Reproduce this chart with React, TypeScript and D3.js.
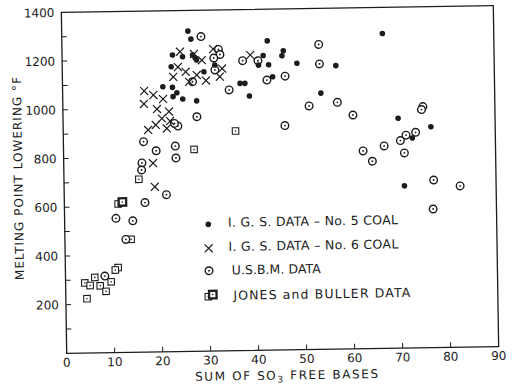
import * as d3 from 'd3'

type Pt = [number, number]

// I.G.S. data - No. 5 coal (filled dots)
const igs5: Pt[] = [
  [26.3, 1315], [26.9, 1282], [23.0, 1218], [25.1, 1210], [27.2, 1217],
  [28.0, 1196], [27.7, 1205], [22.7, 1170], [29.5, 1147], [31.8, 1174],
  [20.9, 1088], [22.9, 1085], [23.8, 1063], [23.0, 1047], [25.0, 1037],
  [27.9, 1028], [37.0, 1097], [38.0, 1097], [38.9, 1045], [42.8, 1270],
  [46.1, 1228], [45.8, 1208], [41.9, 1210], [40.9, 1171], [43.0, 1172],
  [48.9, 1176], [57.0, 1164], [43.8, 1122], [53.8, 1052], [66.8, 1293],
  [69.8, 944], [76.6, 907], [72.7, 862], [70.9, 666],
]

// I.G.S. data - No. 6 coal (crosses)
const igs6: Pt[] = [
  [24.6, 1231], [27.5, 1221], [29.1, 1195], [24.1, 1168], [25.7, 1148],
  [28.0, 1134], [29.9, 1111], [26.4, 1107], [23.1, 1128], [31.5, 1240],
  [33.3, 1159], [32.8, 1126], [39.2, 1213], [17.0, 1072], [18.9, 1055],
  [16.9, 1019], [20.9, 1038], [19.6, 997], [22.1, 986], [20.6, 958],
  [19.3, 932], [17.7, 912], [21.6, 917], [18.6, 775], [18.9, 678],
  [22.3, 947],
]

// U.S.B.M. data (dotted circles)
const usbm: Pt[] = [
  [29.0, 1292], [32.6, 1238], [32.9, 1217], [31.6, 1203], [31.8, 1154],
  [27.1, 1107], [34.7, 1071], [37.6, 1190], [40.8, 1189], [42.6, 1109],
  [46.4, 1124], [53.5, 1252], [53.6, 1172], [51.3, 1000], [57.2, 1013],
  [60.4, 960], [46.2, 921], [75.0, 990], [74.7, 978], [73.4, 885],
  [71.4, 874], [70.2, 852], [66.8, 831], [62.4, 812], [64.3, 769],
  [71.0, 801], [77.0, 688], [82.5, 662], [76.8, 569], [27.9, 963],
  [23.9, 926], [23.2, 937], [16.7, 864], [19.3, 826], [23.3, 844],
  [23.4, 795], [16.3, 777], [16.2, 748], [21.3, 645], [16.8, 614],
  [10.7, 551], [14.2, 540], [12.7, 464], [8.2, 315],
]

// Jones and Buller data (dotted squares)
const jonesBuller: Pt[] = [
  [15.6, 710], [27.2, 829], [35.9, 902], [11.2, 610], [13.8, 464],
  [11.0, 349], [10.4, 339], [6.1, 310], [4.0, 288], [5.1, 277],
  [7.2, 275], [9.5, 291], [8.4, 252], [4.4, 223],
]
const jonesBullerBold: Pt[] = [[12.1, 618]]

const xTicks = d3.range(0, 91, 10)
const yMinor = d3.range(100, 1400, 100)
const yLabels = d3.range(200, 1401, 200)

const legendRows = [
  { kind: 'dot', label: 'I. G. S. DATA \u2013 No. 5 COAL', sy: 223.2, ty: 226, tx: 227.3, len: 170 },
  { kind: 'cross', label: 'I. G. S. DATA \u2013 No. 6 COAL', sy: 247.2, ty: 250.2, tx: 227.3, len: 170 },
  { kind: 'circle', label: 'U.S.B.M. DATA', sy: 269.6, ty: 273.7, tx: 230.3, len: 89 },
  { kind: 'square', label: 'JONES and BULLER DATA', sy: 294, ty: 299, tx: 231.5, len: 177 },
]

const W = 517
const H = 387
const margin = { top: 9, right: 21, bottom: 37, left: 64 }
const ink = '#1c1c1c'
const font = 'DejaVu Sans, sans-serif'

const Dot = ({ x, y }: { x: number; y: number }) => (
  <circle cx={x} cy={y} r={2.8} fill={ink} />
)
const Cross = ({ x, y }: { x: number; y: number }) => (
  <g stroke={ink} strokeWidth={1.2}>
    <line x1={x - 4} y1={y - 4} x2={x + 4} y2={y + 4} />
    <line x1={x - 4} y1={y + 4} x2={x + 4} y2={y - 4} />
  </g>
)
const Ring = ({ x, y }: { x: number; y: number }) => (
  <g>
    <circle cx={x} cy={y} r={3.8} fill="#fff" stroke={ink} strokeWidth={1.4} />
    <circle cx={x} cy={y} r={0.9} fill={ink} />
  </g>
)
const Square = ({ x, y, bold }: { x: number; y: number; bold?: boolean }) => {
  const s = bold ? 7.5 : 6.5
  return (
    <g>
      <rect
        x={x - s / 2}
        y={y - s / 2}
        width={s}
        height={s}
        fill="#fff"
        stroke={ink}
        strokeWidth={bold ? 2.3 : 1.1}
      />
      <circle cx={x} cy={y} r={0.8} fill={ink} />
    </g>
  )
}

export default function App() {
  const x = d3.scaleLinear().domain([0, 90]).range([margin.left, W - margin.right])
  const y = d3.scaleLinear().domain([0, 1400]).range([H - margin.bottom, margin.top])
  const [x0, x1] = x.range()
  const [y0, y1] = y.range()

  return (
    <svg
      width={W}
      height={H}
      style={{ position: 'absolute', left: 0, top: 0, background: '#fff' }}
    >
      <rect width={W} height={H} fill="#fff" />
      <g transform="rotate(-0.9 280 179.5)" fontFamily={font} fill={ink}>
        {/* frame */}
        <rect
          x={x0}
          y={y1}
          width={x1 - x0}
          height={y0 - y1}
          fill="none"
          stroke={ink}
          strokeWidth={1.3}
        />

        {/* y ticks */}
        <g stroke={ink} strokeWidth={1}>
          {yMinor.map((t) => (
            <line key={t} x1={x0} x2={x0 + 5} y1={y(t)} y2={y(t)} />
          ))}
          {xTicks.slice(1, -1).map((t) => (
            <line key={t} x1={x(t)} x2={x(t)} y1={y0} y2={y0 - 5} />
          ))}
        </g>

        <g fontSize={12} textAnchor="end">
          {yLabels.map((t) => (
            <text key={t} x={x0 - 7} y={y(t) + 4.4}>
              {t}
            </text>
          ))}
        </g>
        <g fontSize={12} textAnchor="middle">
          {xTicks.map((t) => (
            <text key={t} x={x(t)} y={363.4}>
              {t}
            </text>
          ))}
        </g>

        {/* axis titles */}
        <text
          transform="translate(22.5,174.4) rotate(-90)"
          textAnchor="middle"
          fontSize={12}
          textLength={203}
          lengthAdjust="spacing"
        >
          MELTING POINT LOWERING °F
        </text>
        <text x={192} y={379.5} fontSize={12} textLength={183} lengthAdjust="spacing">
          SUM OF SO
          <tspan fontSize={9} dy={3}>3</tspan>
          <tspan dy={-3}> FREE BASES</tspan>
        </text>

        {/* data */}
        {jonesBuller.map((d, i) => (
          <Square key={'j' + i} x={x(d[0])} y={y(d[1])} />
        ))}
        {jonesBullerBold.map((d, i) => (
          <Square key={'jb' + i} x={x(d[0])} y={y(d[1])} bold />
        ))}
        {usbm.map((d, i) => (
          <Ring key={'u' + i} x={x(d[0])} y={y(d[1])} />
        ))}
        {igs6.map((d, i) => (
          <Cross key={'c' + i} x={x(d[0])} y={y(d[1])} />
        ))}
        {igs5.map((d, i) => (
          <Dot key={'d' + i} x={x(d[0])} y={y(d[1])} />
        ))}

        {/* legend */}
        {legendRows.map((r) => (
          <g key={r.label}>
            {r.kind === 'dot' && <Dot x={207.6} y={r.sy} />}
            {r.kind === 'cross' && <Cross x={207.6} y={r.sy} />}
            {r.kind === 'circle' && <Ring x={207.6} y={r.sy} />}
            {r.kind === 'square' && (
              <g>
                <Square x={206.5} y={r.sy + 1.5} />
                <Square x={211} y={r.sy - 0.5} bold />
              </g>
            )}
            <text
              x={r.tx}
              y={r.ty}
              fontSize={12.5}
              textLength={r.len}
              lengthAdjust="spacing"
            >
              {r.label}
            </text>
          </g>
        ))}
      </g>
    </svg>
  )
}
